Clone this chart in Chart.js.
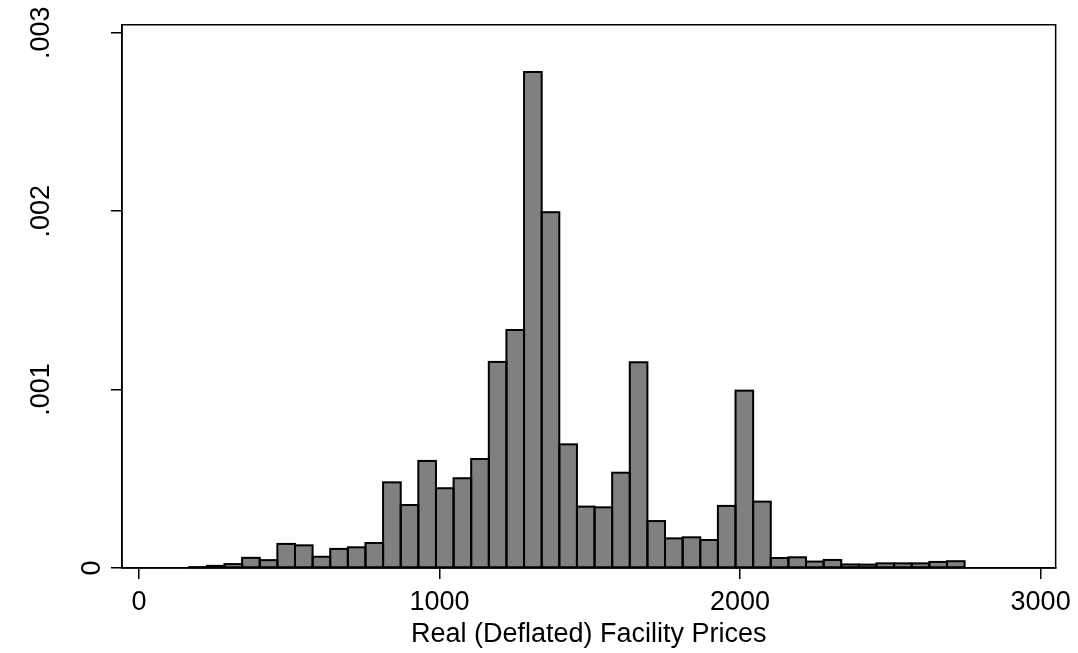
<!DOCTYPE html>
<html>
<head>
<meta charset="utf-8">
<script src="https://cdn.jsdelivr.net/npm/chart.js@4.4.1/dist/chart.umd.min.js"></script>
<style>
html,body{margin:0;padding:0;background:#ffffff;}
#wrap{width:1078px;height:653px;position:relative;}
</style>
</head>
<body>
<div id="wrap"><canvas id="c"></canvas></div>
<script>
// ---- data ----
const binStart = 167.3;      // left edge of first bin (price units)
const binWidth = 58.63;      // bin width (price units)
const density = [
  0.000005, 0.000012, 0.000022, 0.000057, 0.000044,
  0.000135, 0.000127, 0.000063, 0.000107, 0.000116,
  0.000140, 0.000480, 0.000353, 0.000600, 0.000447,
  0.000503, 0.000611, 0.001155, 0.001334, 0.002780,
  0.001994, 0.000693, 0.000344, 0.000340, 0.000534,
  0.001153, 0.000263, 0.000166, 0.000172, 0.000157,
  0.000348, 0.000994, 0.000372, 0.000056, 0.000060,
  0.000036, 0.000045, 0.000020, 0.000019, 0.000026,
  0.000026, 0.000026, 0.000034, 0.000038
];
const xTickValues = [0, 1000, 2000, 3000];
const xTickLabels = ['0', '1000', '2000', '3000'];
const yTickValues = [0, 0.001, 0.002, 0.003];
const yTickLabels = ['0', '.001', '.002', '.003'];
const xTitle = 'Real (Deflated) Facility Prices';

// bin centres for the linear x scale
const points = density.map((d, i) => ({ x: binStart + binWidth * (i + 0.5), y: d }));

const FONT = 'Liberation Sans, Arial, Helvetica, sans-serif';
const FSIZE = 27;

const framePlugin = {
  id: 'frame',
  afterDatasetsDraw(chart) {
    const ctx = chart.ctx;
    const meta = chart.getDatasetMeta(0);
    ctx.save();
    ctx.strokeStyle = '#000000';
    ctx.lineWidth = 2;
    meta.data.forEach(bar => {
      const p = bar.getProps(['x', 'y', 'base', 'width'], true);
      const l = p.x - p.width / 2, r = p.x + p.width / 2;
      ctx.strokeRect(l, p.y, r - l, p.base - p.y);
    });
    ctx.restore();
  },
  afterDraw(chart) {
    const ctx = chart.ctx;
    const a = chart.chartArea;
    ctx.save();
    ctx.strokeStyle = '#000000';
    ctx.lineWidth = 1.5;
    ctx.beginPath();
    ctx.moveTo(a.left, a.bottom);
    ctx.lineTo(a.left, a.top);
    ctx.lineTo(a.right, a.top);
    ctx.lineTo(a.right, a.bottom);
    ctx.lineTo(a.left, a.bottom);
    ctx.stroke();
    // rotated (vertical) y tick labels
    const ys = chart.scales.y;
    ctx.fillStyle = '#000000';
    ctx.font = FSIZE + 'px ' + FONT;
    ctx.textAlign = 'center';
    ctx.textBaseline = 'alphabetic';
    yTickValues.forEach((v, i) => {
      const lab = yTickLabels[i];
      const w = ctx.measureText(lab).width;
      const py = ys.getPixelForValue(v);
      const bx = a.left - 2 - 1.35 * w;
      ctx.save();
      ctx.translate(bx, py);
      ctx.rotate(-Math.PI / 2);
      ctx.fillText(lab, 0, 0);
      ctx.restore();
    });
    ctx.restore();
  }
};

new Chart(document.getElementById('c'), {
  type: 'bar',
  data: {
    datasets: [{
      data: points,
      backgroundColor: '#808080',
      borderWidth: 0,
      barPercentage: 1.0,
      categoryPercentage: 1.0
    }]
  },
  options: {
    responsive: true,
    maintainAspectRatio: false,
    animation: false,
    events: [],
    layout: { padding: { top: 24.7, right: 22, left: 0, bottom: 0 } },
    plugins: { legend: { display: false }, tooltip: { enabled: false } },
    scales: {
      x: {
        type: 'linear',
        offset: false,
        min: -56.5,
        max: 3050,
        afterBuildTicks: s => { s.ticks = xTickValues.map(v => ({ value: v })); },
        afterFit: s => { s.height = 85; },
        ticks: {
          autoSkip: false,
          maxRotation: 0,
          minRotation: 0,
          padding: 7,
          color: '#000000',
          font: { family: FONT, size: FSIZE },
          callback: (v) => { const k = xTickValues.indexOf(v); return k >= 0 ? xTickLabels[k] : ''; }
        },
        grid: { display: true, drawOnChartArea: false, drawTicks: true, tickLength: 11, color: '#000000', lineWidth: 1.5, offset: false },
        border: { display: true, color: '#000000', width: 1.5 },
        title: { display: true, text: xTitle, color: '#000000', font: { family: FONT, size: FSIZE, lineHeight: 1.2 }, padding: { top: 0, bottom: 2 } }
      },
      y: {
        type: 'linear',
        min: 0,
        max: 0.003045,
        afterBuildTicks: s => { s.ticks = yTickValues.map(v => ({ value: v })); },
        afterFit: s => { s.width = 122; },
        ticks: { display: false },
        grid: { display: true, drawOnChartArea: false, drawTicks: true, tickLength: 11, color: '#000000', lineWidth: 1.5 },
        border: { display: true, color: '#000000', width: 1.5 }
      }
    }
  },
  plugins: [framePlugin]
});
</script>
</body>
</html>
